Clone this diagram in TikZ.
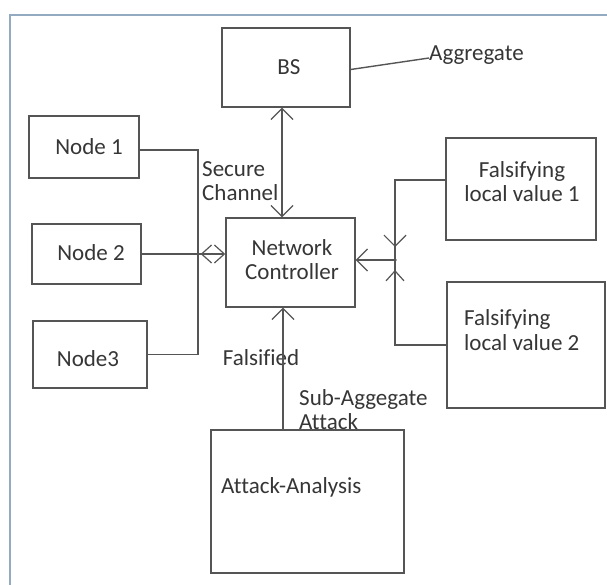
\documentclass[tikz,border=0pt]{standalone}
\usepackage{fontspec}
\setmainfont{Carlito}[Ligatures=NoCommon]
\usetikzlibrary{arrows.meta,decorations.markings,calc}
\definecolor{ln}{HTML}{555555}
\definecolor{tx}{HTML}{363636}
\definecolor{frm}{HTML}{93AAC0}
\tikzset{
  box/.style={draw=ln,line width=1.4pt,rectangle,inner sep=0pt},
  lbl/.style={text=tx,font=\fontsize{23}{24.5}\selectfont,inner sep=0pt},
  wire/.style={draw=ln,line width=1.4pt},
  barb/.tip={Straight Barb[length=11pt,width=22pt,line width=1.2pt]},
  sbarb/.tip={Straight Barb[length=10pt,width=18pt,line width=1.2pt]},
  dot/.style={circle,fill=ln,inner sep=0pt,minimum size=3.5pt},
}
\begin{document}
\begin{tikzpicture}[x=1pt,y=-1pt]
\useasboundingbox (0,0) rectangle (607,585);
\fill[white] (0,0) rectangle (607,585);
% frame
\draw[frm,line width=2pt] (10,585) -- (10,15) -- (607,15);

% boxes
\node[box,minimum width=128pt,minimum height=79pt] (bs) at (286,67.5) {};
\node[lbl] at (289,67) {BS};
\node[box,minimum width=110pt,minimum height=62pt] (n1) at (84,147) {};
\node[lbl] at (89,147) {Node 1};
\node[box,minimum width=109pt,minimum height=60pt] (n2) at (86.5,254) {};
\node[lbl] at (91,253) {Node 2};
\node[box,minimum width=114pt,minimum height=67pt] (n3) at (90,354.5) {};
\node[lbl] at (88,359) {Node3};
\node[box,minimum width=129pt,minimum height=89pt] (nc) at (290.5,262.5) {};
\node[lbl,align=center] at (292,259.5) {Network\\Controller};
\node[box,minimum width=150pt,minimum height=102pt] (f1) at (521,189) {};
\node[lbl,align=center] at (522,181.5) {Falsifying\\local value 1};
\node[box,minimum width=158pt,minimum height=126pt] (f2) at (526,345) {};
\node[lbl,align=left,anchor=west] at (464,330) {Falsifying\\local value 2};
\node[box,minimum width=193pt,minimum height=143pt] (aa) at (307.5,501.5) {};
\node[lbl,anchor=west] at (221,487) {Attack-Analysis};

% labels
\node[lbl,anchor=west] (agg) at (429,55) {Aggregate};
\node[lbl,align=left,anchor=west] (sc) at (202,181) {Secure\\Channel};
\node[lbl] (fal) at (261,358) {Falsified};
\node[lbl,align=left,anchor=west] (sub) at (299,409.5) {Sub-Aggegate\\Attack};

% junctions
\coordinate (jl) at (198,254);
\coordinate (jr) at (395,260);

% left wiring
\draw[wire] ([yshift=-3pt]n1.east) -| (jl) |- (n3.east);
\draw[wire,-sbarb,postaction={decorate},
  decoration={markings,mark=at position 59pt with {\arrowreversed{sbarb}}}]
  (n2.east) -- (n2.east -| nc.west);
\node[dot] at (jl) {};

% BS <-> NC
\draw[wire,barb-barb] (bs.south -| 282,0) -- (nc.north -| 282,0);
% BS -- Aggregate
\draw[wire] ([yshift=-2pt]bs.east) -- ([yshift=-3pt]agg.west);

% right wiring
\draw[wire,postaction={decorate},
  decoration={markings,mark=at position -13pt with {\arrow{barb}}}]
  ([yshift=9pt]f1.west) -| (jr);
\draw[wire,postaction={decorate},
  decoration={markings,mark=at position -10pt with {\arrow{sbarb}}}]
  (f2.west) -| (jr);
\draw[wire,-barb] (jr) -- (jr -| nc.east);
\node[dot] at (jr) {};

% Attack-Analysis -> NC
\draw[wire,-barb] (aa.north -| 283,0) -- (nc.south -| 283,0);
\end{tikzpicture}
\end{document}
